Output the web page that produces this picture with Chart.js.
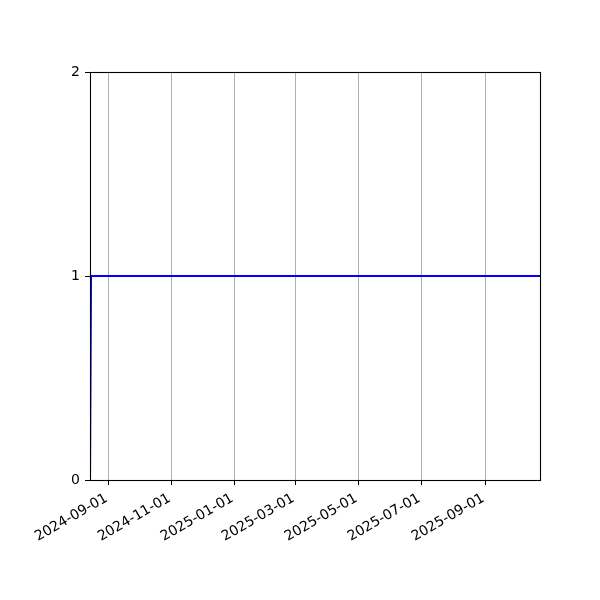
<!DOCTYPE html>
<html>
<head>
<meta charset="utf-8">
<script src="https://cdn.jsdelivr.net/npm/chart.js@4.4.0/dist/chart.umd.min.js"></script>
<style>
  html, body { margin: 0; padding: 0; background: #ffffff; }
  #chart { display: block; }
</style>
</head>
<body>
<canvas id="chart" width="600" height="600"></canvas>
<script>
// series: steps up from 0 to 1 right at the start, then stays at 1
const seriesDates = ['2024-08-14', '2024-08-15', '2025-10-24'];
const seriesValues = [0, 1, 1];

const xTickDates = ['2024-09-01', '2024-11-01', '2025-01-01', '2025-03-01',
                    '2025-05-01', '2025-07-01', '2025-09-01'];
const yTicks = [0, 1, 2];

const DAY = 86400000;
const toDay = s => Date.parse(s + 'T00:00:00Z') / DAY;
const fromDay = d => new Date(Math.round(d) * DAY).toISOString().slice(0, 10);

const points = seriesDates.map((d, i) => ({ x: toDay(d), y: seriesValues[i] }));

// matplotlib-like box around the plot
const framePlugin = {
    id: 'frame',
    afterDraw(chart) {
        const { ctx, chartArea } = chart;
        ctx.save();
        ctx.strokeStyle = '#000000';
        ctx.lineWidth = 1.1;
        ctx.strokeRect(chartArea.left + 0.5, chartArea.top + 0.5,
                       chartArea.right - chartArea.left, chartArea.bottom - chartArea.top);
        ctx.restore();
    }
};

const tickFont = { family: 'DejaVu Sans', size: 14 };

new Chart(document.getElementById('chart').getContext('2d'), {
    type: 'line',
    data: {
        datasets: [{
            data: points,
            borderColor: '#0000ff',
            borderWidth: 2,
            pointRadius: 0,
            fill: false,
            tension: 0
        }]
    },
    options: {
        responsive: false,
        devicePixelRatio: 1,
        animation: false,
        layout: { padding: { left: 0, right: 60, top: 72, bottom: 0 } },
        plugins: {
            legend: { display: false },
            tooltip: { enabled: false }
        },
        scales: {
            x: {
                type: 'linear',
                min: toDay(seriesDates[0]),
                max: toDay(seriesDates[seriesDates.length - 1]),
                afterBuildTicks(axis) {
                    axis.ticks = xTickDates.map(d => ({ value: toDay(d) }));
                },
                afterFit(axis) { axis.height = 120; },
                ticks: {
                    color: '#000000',
                    font: tickFont,
                    autoSkip: false,
                    maxRotation: 30,
                    minRotation: 30,
                    padding: 5,
                    labelOffset: -2,
                    callback: v => fromDay(v)
                },
                grid: {
                    color: '#b0b0b0',
                    lineWidth: 1,
                    tickColor: '#000000',
                    tickLength: 5,
                    drawTicks: true
                },
                border: { display: false }
            },
            y: {
                min: 0,
                max: 2,
                afterBuildTicks(axis) {
                    axis.ticks = yTicks.map(v => ({ value: v }));
                },
                afterFit(axis) { axis.width = 90; },
                ticks: {
                    color: '#000000',
                    font: tickFont,
                    padding: 5
                },
                grid: {
                    drawOnChartArea: false,
                    tickColor: '#000000',
                    tickLength: 5,
                    lineWidth: 1
                },
                border: { display: false }
            }
        }
    },
    plugins: [framePlugin]
});
</script>
</body>
</html>
